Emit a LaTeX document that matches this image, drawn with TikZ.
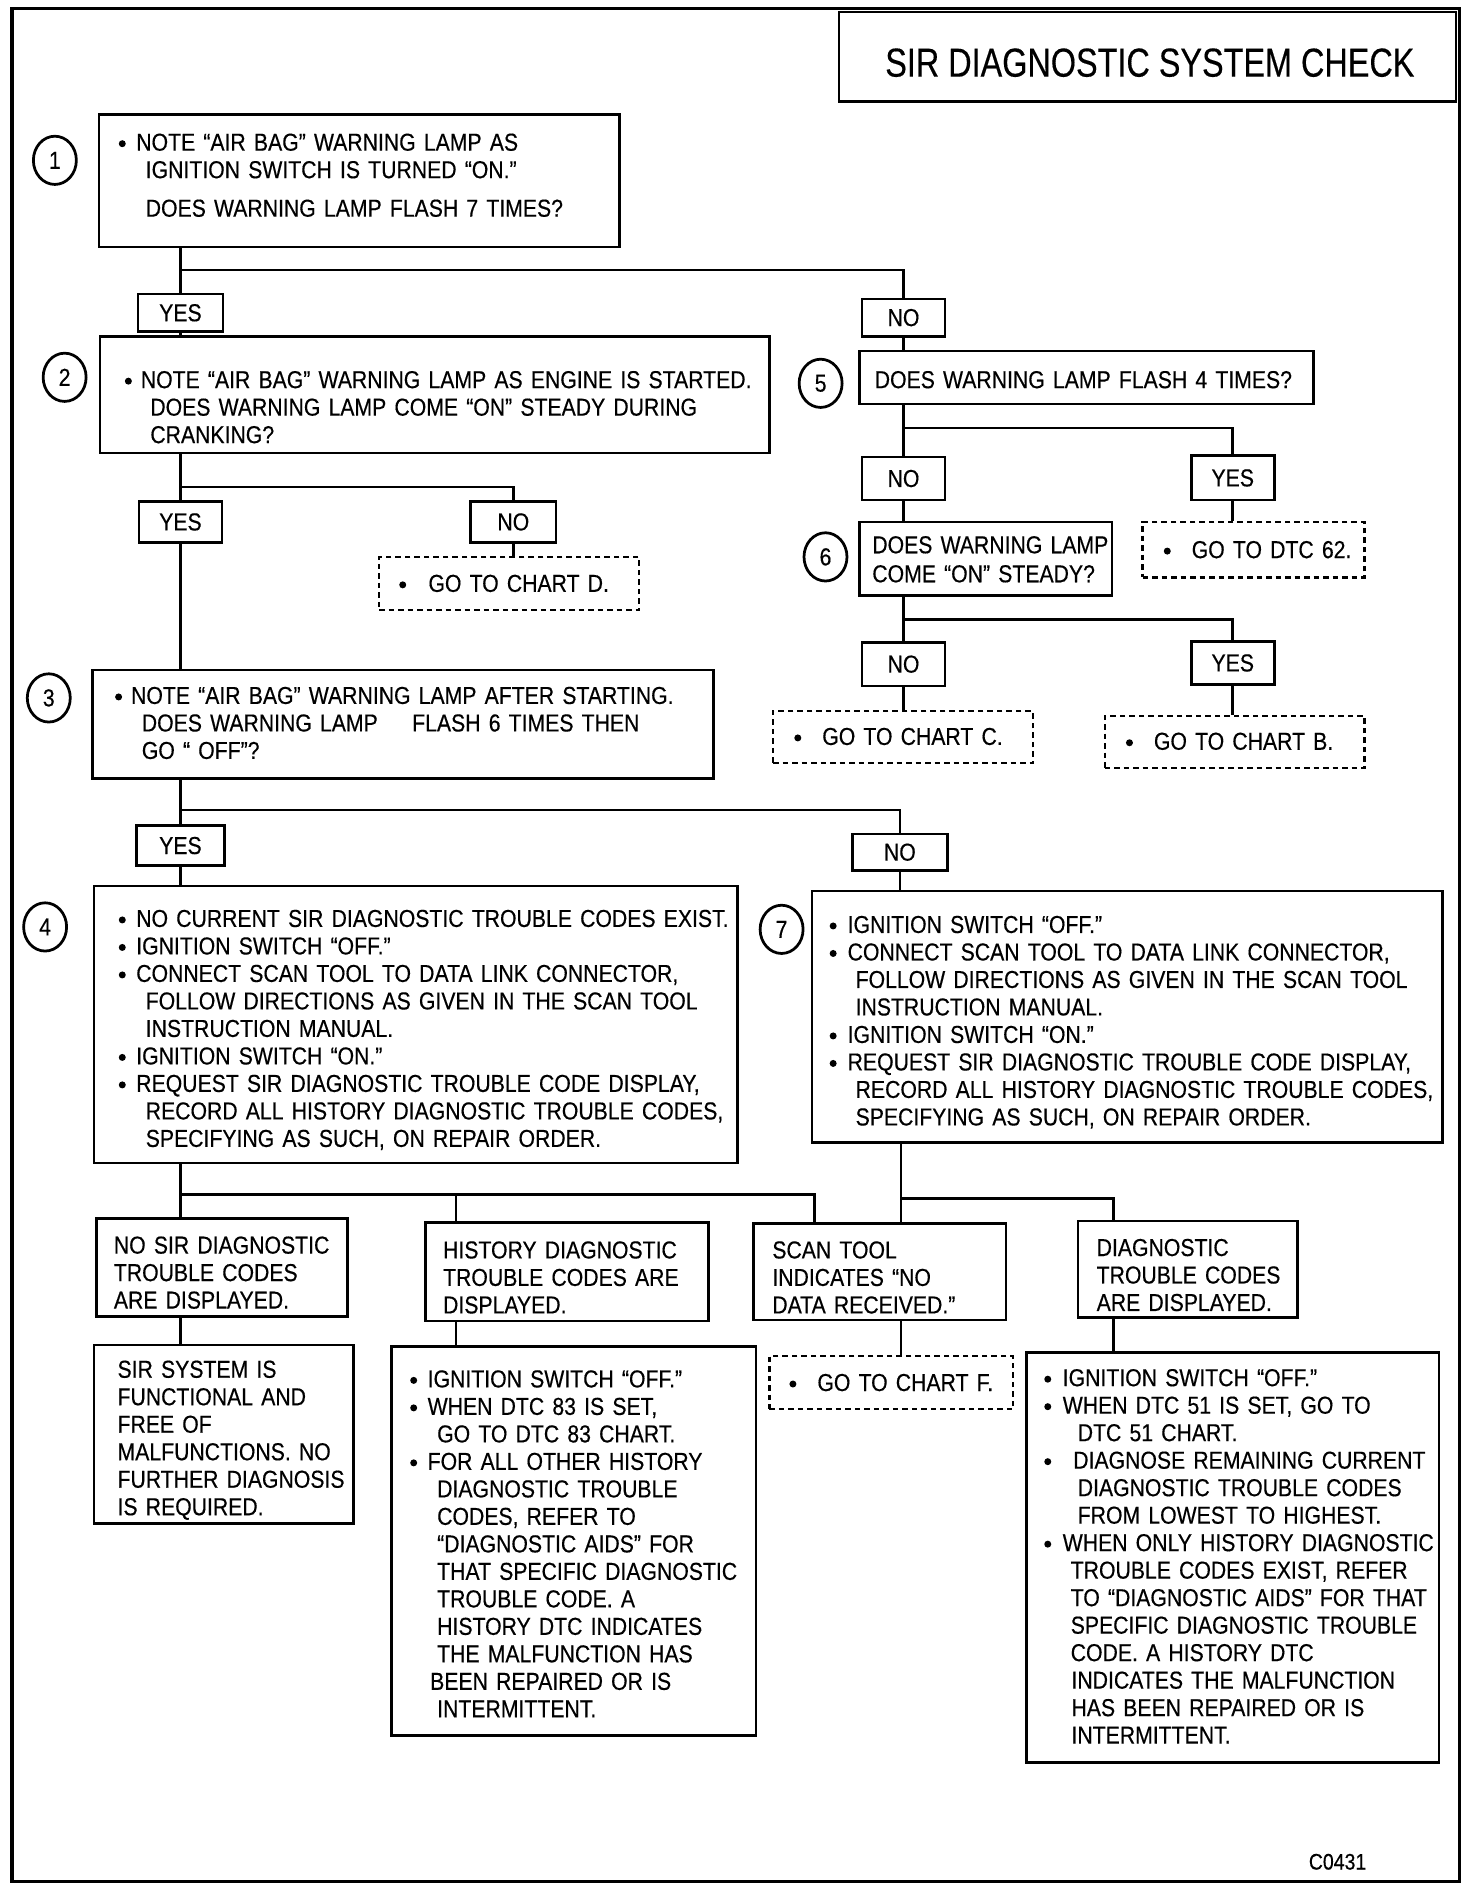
\documentclass[tikz,border=0pt]{standalone}
\usepackage{fontspec}
\setmainfont{Liberation Sans}[FakeStretch=0.866,FakeBold=0.4]
\newfontfamily\titlefont{Liberation Sans}[FakeStretch=0.80,FakeBold=0.3]
\usetikzlibrary{fit,shapes.geometric}
\newcommand{\Bul}[1][7pt]{\makebox[#1][l]{\tikz[baseline=0pt]\fill (1.4pt,2.8pt) circle[radius=1.4pt];}}
\newcommand{\Ind}[1][10.8pt]{\hspace*{#1}}
\begin{document}
\begin{tikzpicture}[x=0.48784pt, y=-0.48224pt,
  box/.style={draw, line width=1pt, inner sep=0pt},
  dbox/.style={draw, line width=0.9pt, dash pattern=on 2.2pt off 1.6pt, inner sep=0pt},
  lab/.style={draw, line width=1pt, inner sep=0pt, minimum width=33.2pt, minimum height=16.4pt, font=\fontsize{9.8}{11}\selectfont},
  txt/.style={anchor=base west, inner sep=0pt, text width=#1, align=left, font=\fontsize{9.8}{11}\selectfont},
  txt/.default=100pt,
  num/.style={draw, ellipse, line width=1.1pt, minimum width=17.2pt, minimum height=19.3pt, inner sep=0pt, font=\fontsize{9.8}{11}\selectfont},
  conn/.style={line width=1.1pt}]
\useasboundingbox (0,0) rectangle (1207,1568);
\fill[white] (0,0) rectangle (1207,1568);
% frame and title
\draw[line width=1.4pt] (10,7) rectangle (1197,1561);
\node[box, line width=1.1pt, fit={(688,10)(1194,84)}] (title) {};
\node[font=\titlefont\fontsize{16.2}{18}\selectfont] (ttl) at (943,52) {SIR DIAGNOSTIC SYSTEM CHECK};
\node[anchor=base west, inner sep=0pt, font=\fontsize{9}{10}\selectfont] (code) at (1073,1551) {C0431};

% number circles
\node[num] (c1) at (45,133) {1};
\node[num] (c2) at (53,313) {2};
\node[num] (c3) at (40,579) {3};
\node[num] (c4) at (37,769) {4};
\node[num] (c5) at (673,318) {5};
\node[num] (c6) at (677,462) {6};
\node[num] (c7) at (641,771) {7};

% box 1
\node[box, fit={(81,95)(508,205)}] (b1) {};
\node[txt=205pt] (t1) at (97,125) {\Bul NOTE “AIR BAG” WARNING LAMP AS\\
\Ind IGNITION SWITCH IS TURNED “ON.”\\[4.4pt]
\Ind DOES WARNING LAMP FLASH 7 TIMES?};
\node[lab, minimum width=34.15pt, minimum height=14.95pt] (y1) at (148,259.5) {YES};
\node[lab, minimum height=14.95pt] (n1) at (741,263.5) {NO};

% box 2
\node[box, fit={(82,279)(631,376)}] (b2) {};
\node[txt=263pt] (t2) at (102,322) {\Bul[6.4pt]NOTE “AIR BAG” WARNING LAMP AS ENGINE IS STARTED.\\
\Ind[10.2pt]DOES WARNING LAMP COME “ON” STEADY DURING\\
\Ind[10.2pt]CRANKING?};
\node[lab] (y2) at (148,433) {YES};
\node[lab, minimum width=34.15pt] (n2) at (421,433) {NO};
\node[dbox, fit={(311,462)(524,506)}] (d1) {};
\node[txt=97pt] (td1) at (327,491) {\Bul[11.7pt]GO TO CHART D.};

% box 5
\node[box, fit={(705,291)(1077,335)}] (b5) {};
\node[txt=178pt] (t5) at (717,322) {DOES WARNING LAMP FLASH 4 TIMES?};
\node[lab, minimum height=17.36pt] (n5) at (741,397) {NO};
\node[lab, minimum height=17.84pt] (y5) at (1011,396.5) {YES};
\node[dbox, fit={(937,433)(1119,479)}] (d2) {};
\node[txt=83pt] (td2) at (954,463) {\Bul[11.2pt]GO TO DTC 62.};

% box 6
\node[box, fit={(705,433)(912,494)}] (b6) {};
\node[txt=100pt] (t6) at (715,459) {DOES WARNING LAMP\\[0.6pt]COME “ON” STEADY?};
\node[lab, minimum height=17.36pt] (n6) at (741,551) {NO};
\node[lab, minimum height=17.36pt] (y6) at (1011,550) {YES};
\node[dbox, fit={(634,590)(847,633)}] (d3) {};
\node[txt=95pt] (td3) at (651,618) {\Bul[11.2pt]GO TO CHART C.};
\node[dbox, fit={(906,594)(1119,637)}] (d4) {};
\node[txt=95pt] (td4) at (923,622) {\Bul[11.2pt]GO TO CHART B.};

% box 3
\node[box, fit={(76,556)(585,646)}] (b3) {};
\node[txt=241pt] (t3) at (94,584) {\Bul[6.4pt]NOTE “AIR BAG” WARNING LAMP AFTER STARTING.\\
\Ind[10.7pt]DOES WARNING LAMP\hspace{10.5pt} FLASH 6 TIMES THEN\\
\Ind[10.7pt]GO “ OFF”?};
\node[lab, minimum width=35.1pt, minimum height=15.9pt] (y3) at (148,701.5) {YES};
\node[lab, minimum width=38.05pt, minimum height=14.47pt] (n3) at (738,707) {NO};

% box 4
\node[box, fit={(77,735)(605,965)}] (b4) {};
\node[txt=251pt] (t4) at (97,769) {\Bul NO CURRENT SIR DIAGNOSTIC TROUBLE CODES EXIST.\\
\Bul IGNITION SWITCH “OFF.”\\
\Bul CONNECT SCAN TOOL TO DATA LINK CONNECTOR,\\
\Ind FOLLOW DIRECTIONS AS GIVEN IN THE SCAN TOOL\\
\Ind INSTRUCTION MANUAL.\\
\Bul IGNITION SWITCH “ON.”\\
\Bul REQUEST SIR DIAGNOSTIC TROUBLE CODE DISPLAY,\\
\Ind RECORD ALL HISTORY DIAGNOSTIC TROUBLE CODES,\\
\Ind SPECIFYING AS SUCH, ON REPAIR ORDER.};

% box 7
\node[box, fit={(666,739)(1183,948)}] (b7) {};
\node[txt=249pt] (t7) at (680,774) {\Bul[7.2pt]IGNITION SWITCH “OFF.”\\
\Bul[7.2pt]CONNECT SCAN TOOL TO DATA LINK CONNECTOR,\\
\Ind[10.4pt]FOLLOW DIRECTIONS AS GIVEN IN THE SCAN TOOL\\
\Ind[10.4pt]INSTRUCTION MANUAL.\\
\Bul[7.2pt]IGNITION SWITCH “ON.”\\
\Bul[7.2pt]REQUEST SIR DIAGNOSTIC TROUBLE CODE DISPLAY,\\
\Ind[10.4pt]RECORD ALL HISTORY DIAGNOSTIC TROUBLE CODES,\\
\Ind[10.4pt]SPECIFYING AS SUCH, ON REPAIR ORDER.};

% bottom row
\node[box, fit={(79,1011)(285,1092)}] (bA) {};
\node[txt=95pt] (tA) at (93,1040) {NO SIR DIAGNOSTIC\\TROUBLE CODES\\ARE DISPLAYED.};
\node[box, fit={(349,1014)(581,1096)}] (bB) {};
\node[txt=107pt] (tB) at (363,1044) {HISTORY DIAGNOSTIC\\TROUBLE CODES ARE\\DISPLAYED.};
\node[box, fit={(618,1015)(825,1095)}] (bC) {};
\node[txt=95pt] (tC) at (633,1044) {SCAN TOOL\\INDICATES “NO\\DATA RECEIVED.”};
\node[box, fit={(884,1013)(1064,1093)}] (bD) {};
\node[txt=83pt] (tD) at (899,1042) {DIAGNOSTIC\\TROUBLE CODES\\ARE DISPLAYED.};

\node[box, fit={(77,1116)(290,1264)}] (bE) {};
\node[txt=97.5pt] (tE) at (96,1143) {SIR SYSTEM IS\\FUNCTIONAL AND\\FREE OF\\MALFUNCTIONS. NO\\FURTHER DIAGNOSIS\\IS REQUIRED.};

\node[box, fit={(321,1117)(620,1440)}] (bF) {};
\node[txt=141pt] (tF) at (336,1151) {\Bul IGNITION SWITCH “OFF.”\\
\Bul WHEN DTC 83 IS SET,\\
\Ind GO TO DTC 83 CHART.\\
\Bul FOR ALL OTHER HISTORY\\
\Ind DIAGNOSTIC TROUBLE\\
\Ind CODES, REFER TO\\
\Ind “DIAGNOSTIC AIDS” FOR\\
\Ind THAT SPECIFIC DIAGNOSTIC\\
\Ind TROUBLE CODE. A\\
\Ind HISTORY DTC INDICATES\\
\Ind THE MALFUNCTION HAS\\
\Ind[8pt]BEEN REPAIRED OR IS\\
\Ind INTERMITTENT.};

\node[dbox, fit={(631,1125)(831,1169)}] (dG) {};
\node[txt=88pt] (tG) at (647,1154) {\Bul[11.2pt]GO TO CHART F.};

\node[box, fit={(842,1122)(1180,1462)}] (bH) {};
\node[txt=163pt] (tH) at (856,1150) {\Bul[7.4pt]IGNITION SWITCH “OFF.”\\
\Bul[7.4pt]WHEN DTC 51 IS SET, GO TO\\
\Ind[13.4pt]DTC 51 CHART.\\
\Bul[11.6pt]DIAGNOSE REMAINING CURRENT\\
\Ind[13.4pt]DIAGNOSTIC TROUBLE CODES\\
\Ind[13.4pt]FROM LOWEST TO HIGHEST.\\
\Bul[7.4pt]WHEN ONLY HISTORY DIAGNOSTIC\\
\Ind[10.6pt]TROUBLE CODES EXIST, REFER\\
\Ind[10.6pt]TO “DIAGNOSTIC AIDS” FOR THAT\\
\Ind[10.6pt]SPECIFIC DIAGNOSTIC TROUBLE\\
\Ind[10.6pt]CODE. A HISTORY DTC\\
\Ind[10.9pt]INDICATES THE MALFUNCTION\\
\Ind[10.9pt]HAS BEEN REPAIRED OR IS\\
\Ind[10.9pt]INTERMITTENT.};

% junctions
\coordinate (j1) at (148,224);
\coordinate (j2) at (148,404);
\coordinate (j5) at (741,355);
\coordinate (j6) at (741,514);
\coordinate (j3) at (148,672);
\coordinate (j4) at (148,991);
\coordinate (j4b) at (374,991);
\coordinate (j4c) at (668,991);
\coordinate (j7) at (739,994);
\coordinate (j7d) at (913,994);

% connectors
\draw[conn] (b1.south -| j1) -- (y1.north);
\draw[conn] (j1) -| (n1.north);
\draw[conn] (y1.south) -- (b2.north -| y1);
\draw[conn] (n1.south) -- (b5.north -| n1);

\draw[conn] (b2.south -| j2) -- (y2.north);
\draw[conn] (j2) -| (n2.north);
\draw[conn] (n2.south) -- (d1.north -| n2);
\draw[conn] (y2.south) -- (b3.north -| y2);

\draw[conn] (b5.south -| j5) -- (n5.north);
\draw[conn] (j5) -| (y5.north);
\draw[conn] (y5.south) -- (d2.north -| y5);
\draw[conn] (n5.south) -- (b6.north -| n5);

\draw[conn] (b6.south -| j6) -- (n6.north);
\draw[conn] (j6) -| (y6.north);
\draw[conn] (n6.south) -- (d3.north -| n6);
\draw[conn] (y6.south) -- (d4.north -| y6);

\draw[conn] (b3.south -| j3) -- (y3.north);
\draw[conn] (j3) -| (n3.north);
\draw[conn] (y3.south) -- (b4.north -| y3);
\draw[conn] (n3.south) -- (b7.north -| n3);

\draw[conn] (b4.south -| j4) -- (bA.north -| j4);
\draw[conn] (j4) -- (j4c) -- (bC.north -| j4c);
\draw[conn] (j4b) -- (bB.north -| j4b);
\draw[conn] (b7.south -| j7) -- (bC.north -| j7);
\draw[conn] (j7) -- (j7d) -- (bD.north -| j7d);

\draw[conn] (bA.south -| j4) -- (bE.north -| j4);
\draw[conn] (bB.south -| j4b) -- (bF.north -| j4b);
\draw[conn] (bC.south -| j7) -- (dG.north -| j7);
\draw[conn] (bD.south -| j7d) -- (bH.north -| j7d);
\end{tikzpicture}
\end{document}
